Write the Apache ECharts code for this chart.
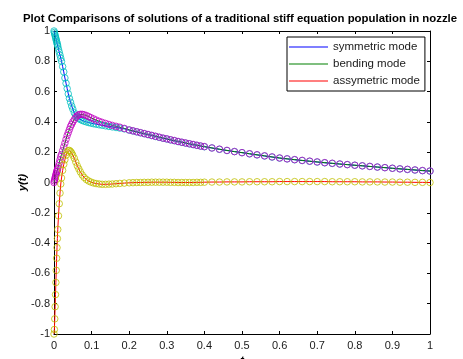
<!DOCTYPE html>
<html>
<head>
<meta charset="utf-8">
<script src="https://cdn.jsdelivr.net/npm/echarts@6/dist/echarts.min.js"></script>
<style>
  html, body { margin: 0; padding: 0; background: #fff; }
  #chart { width: 463px; height: 359px; }
</style>
</head>
<body>
<div id="chart"></div>
<script>
// time samples (solver steps, dense near t = 0)
const t = [
  0, 0.001, 0.002, 0.003, 0.004, 0.005, 0.006, 0.007, 0.008, 0.009, 0.01,
  0.012, 0.014, 0.016, 0.018, 0.02, 0.023, 0.026, 0.029, 0.032, 0.035,
  0.038, 0.041, 0.044, 0.047, 0.05, 0.054, 0.058, 0.062, 0.066, 0.07,
  0.075, 0.08, 0.086, 0.092, 0.098, 0.105, 0.112, 0.12, 0.128, 0.137,
  0.146, 0.155, 0.165, 0.175, 0.187,
  0.2, 0.21, 0.22, 0.23, 0.24, 0.25, 0.26, 0.27, 0.28, 0.29, 0.3,
  0.31, 0.32, 0.33, 0.34, 0.35, 0.36, 0.37, 0.38, 0.39, 0.4,
  0.42, 0.44, 0.46, 0.48, 0.5, 0.52, 0.54, 0.56, 0.58, 0.6,
  0.62, 0.64, 0.66, 0.68, 0.7, 0.72, 0.74, 0.76, 0.78, 0.8,
  0.82, 0.84, 0.86, 0.88, 0.9, 0.92, 0.94, 0.96, 0.98, 1.0
];

const symmetric = [
  1.0, 0.99, 0.98, 0.97, 0.96, 0.95, 0.94, 0.93, 0.92, 0.91, 0.9,
  0.88, 0.86, 0.84, 0.82, 0.8, 0.765, 0.73, 0.69, 0.655, 0.62,
  0.585, 0.555, 0.53, 0.505, 0.485, 0.46, 0.445, 0.432, 0.423, 0.416,
  0.41, 0.405, 0.4, 0.396, 0.392, 0.388, 0.385, 0.381, 0.378, 0.374,
  0.37, 0.367, 0.363, 0.359, 0.354,
  0.346, 0.34, 0.334, 0.328, 0.322, 0.316, 0.31, 0.304, 0.298, 0.292, 0.287,
  0.281, 0.276, 0.27, 0.265, 0.26, 0.255, 0.25, 0.245, 0.24, 0.236,
  0.228, 0.219, 0.211, 0.204, 0.197, 0.189, 0.182, 0.175, 0.168, 0.161,
  0.156, 0.15, 0.145, 0.14, 0.135, 0.13, 0.126, 0.122, 0.118, 0.114,
  0.11, 0.106, 0.102, 0.098, 0.094, 0.09, 0.086, 0.082, 0.078, 0.075
];

const bending = [
  0, 0.01, 0.02, 0.03, 0.04, 0.05, 0.06, 0.07, 0.075, 0.085, 0.095,
  0.11, 0.13, 0.15, 0.17, 0.185, 0.21, 0.235, 0.26, 0.285, 0.31,
  0.33, 0.35, 0.37, 0.385, 0.4, 0.415, 0.43, 0.44, 0.447, 0.45,
  0.45, 0.447, 0.442, 0.435, 0.428, 0.42, 0.412, 0.404, 0.397, 0.39,
  0.383, 0.377, 0.371, 0.365, 0.357,
  0.347, 0.341, 0.335, 0.329, 0.323, 0.317, 0.311, 0.305, 0.299, 0.293, 0.288,
  0.282, 0.277, 0.271, 0.266, 0.261, 0.256, 0.251, 0.246, 0.241, 0.237,
  0.228, 0.22, 0.212, 0.204, 0.197, 0.19, 0.183, 0.176, 0.169, 0.162,
  0.156, 0.151, 0.146, 0.141, 0.136, 0.131, 0.127, 0.122, 0.118, 0.114,
  0.11, 0.106, 0.102, 0.098, 0.094, 0.09, 0.087, 0.083, 0.079, 0.076
];

const assymetric = [
  -1.0, -0.97, -0.9, -0.82, -0.74, -0.66, -0.58, -0.5, -0.43, -0.37, -0.31,
  -0.22, -0.14, -0.07, -0.01, 0.03, 0.08, 0.12, 0.15, 0.18, 0.2,
  0.21, 0.212, 0.205, 0.195, 0.18, 0.16, 0.135, 0.11, 0.09, 0.07,
  0.05, 0.034, 0.02, 0.01, 0.003, -0.003, -0.007, -0.01, -0.012, -0.012,
  -0.011, -0.01, -0.008, -0.006, -0.004,
  -0.002, -0.001, 0.0, 0.0, 0.001, 0.001, 0.002, 0.002, 0.002, 0.002, 0.002,
  0.001, 0.001, 0.0, 0.0, 0.0, 0.0, 0.0, 0.001, 0.001, 0.002,
  0.003, 0.003, 0.004, 0.004, 0.004, 0.005, 0.005, 0.005, 0.005, 0.006,
  0.006, 0.006, 0.006, 0.006, 0.006, 0.006, 0.005, 0.005, 0.005, 0.005,
  0.004, 0.004, 0.004, 0.003, 0.003, 0.002, 0.002, 0.001, 0.001, 0.0
];

const legendNames = ["symmetric mode", "bending mode", "assymetric mode"];
const lineColors = ["#0000ff", "#008000", "#ff0000"];
const markerColors = ["#00bfbf", "#bf00bf", "#bfbf00"];

const chart = echarts.init(document.getElementById("chart"), null, { renderer: "canvas" });

const seriesValues = [symmetric, bending, assymetric];
const toPoints = (ys) => t.map((x, i) => [x, ys[i]]);

const lineSeries = seriesValues.map((ys, i) => ({
  name: legendNames[i],
  type: "line",
  data: toPoints(ys),
  symbol: "none",
  lineStyle: { color: lineColors[i], width: 1 },
  itemStyle: { color: lineColors[i] },
  z: 2,
}));

const markerSeries = seriesValues.map((ys, i) => ({
  name: "m" + i,
  type: "scatter",
  data: toPoints(ys),
  symbol: "circle",
  symbolSize: 6.5,
  itemStyle: { color: "rgba(0,0,0,0)", borderColor: markerColors[i], borderWidth: 1 },
  z: 3,
}));

const axisFont = { fontFamily: "Liberation Sans", fontSize: 11, color: "#1a1a1a" };
const labelFont = { fontFamily: "Liberation Sans", fontSize: 11, fontWeight: "bold", fontStyle: "italic", color: "#000" };

chart.setOption({
  animation: false,
  backgroundColor: "#fff",
  title: {
    text: "Plot Comparisons of solutions of a traditional stiff equation population in nozzle",
    left: 18,
    top: 8,
    textStyle: { fontFamily: "Liberation Sans", fontWeight: "bold", fontSize: 11.4, color: "#000" },
  },
  legend: {
    data: legendNames.map((n, i) => ({
      name: n,
      itemStyle: { color: lineColors[i], borderWidth: 0 },
    })),
    orient: "vertical",
    left: 287,
    top: 37,
    icon: "rect",
    itemWidth: 39,
    itemHeight: 1,
    itemGap: 5,
    padding: [4, 5, 4, 2],
    borderColor: "#000",
    borderWidth: 1,
    backgroundColor: "#fff",
    textStyle: { fontFamily: "Liberation Sans", fontSize: 11.5, color: "#1a1a1a" },
  },
  grid: { left: 54, right: 33, top: 31, bottom: 25, outerBoundsMode: "none" },
  xAxis: [
    {
      type: "value", min: 0, max: 1, interval: 0.1,
      name: "t", nameLocation: "middle", nameGap: 21, nameMoveOverlap: false,
      nameTextStyle: labelFont,
      axisLine: { onZero: false, lineStyle: { color: "#000", width: 1 } },
      axisTick: { inside: true, length: 3, lineStyle: { color: "#000" } },
      axisLabel: Object.assign({ margin: 6 }, axisFont),
      splitLine: { show: false },
    },
    {
      type: "value", min: 0, max: 1, interval: 0.1, position: "top",
      axisLine: { onZero: false, lineStyle: { color: "#000", width: 1 } },
      axisTick: { inside: true, length: 3, lineStyle: { color: "#000" } },
      axisLabel: { show: false },
      splitLine: { show: false },
    },
  ],
  yAxis: [
    {
      type: "value", min: -1, max: 1, interval: 0.2,
      name: "y(t)", nameLocation: "middle", nameGap: 26, nameRotate: 90, nameMoveOverlap: false,
      nameTextStyle: labelFont,
      axisLine: { onZero: false, lineStyle: { color: "#000", width: 1 } },
      axisTick: { inside: true, length: 3, lineStyle: { color: "#000" } },
      axisLabel: Object.assign({ margin: 4 }, axisFont),
      splitLine: { show: false },
    },
    {
      type: "value", min: -1, max: 1, interval: 0.2, position: "right",
      axisLine: { onZero: false, lineStyle: { color: "#000", width: 1 } },
      axisTick: { inside: true, length: 3, lineStyle: { color: "#000" } },
      axisLabel: { show: false },
      splitLine: { show: false },
    },
  ],
  series: lineSeries.concat(markerSeries),
});
</script>
</body>
</html>
